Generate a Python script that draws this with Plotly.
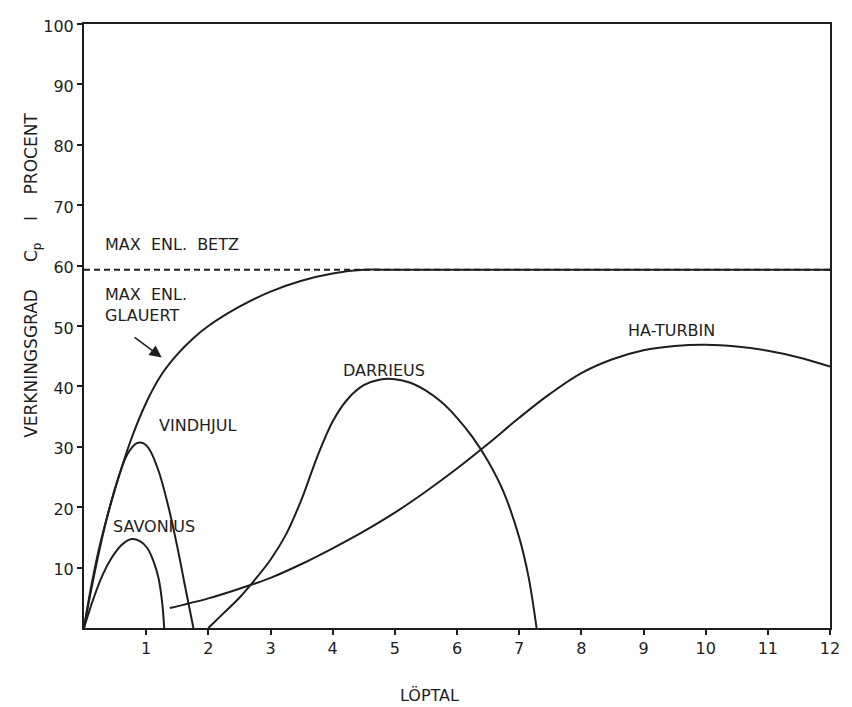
import plotly.graph_objects as go

# ---- data ----
glauert_x = [0, 0.1, 0.25, 0.5, 0.75, 1.0, 1.25, 1.5, 1.75, 2.0, 2.5, 3.0, 3.5, 4.0, 4.5, 5.0, 6.0, 8.0, 10.0, 12.0]
glauert_y = [0, 6.0, 13.5, 23.0, 31.0, 37.3, 42.0, 45.3, 47.9, 50.0, 53.2, 55.7, 57.5, 58.7, 59.3, 59.3, 59.3, 59.3, 59.3, 59.3]

betz_x = [0, 12]
betz_y = [59.3, 59.3]

vindhjul_x = [0, 0.1, 0.25, 0.4, 0.55, 0.7, 0.85, 0.95, 1.05, 1.2, 1.35, 1.5, 1.62, 1.76]
vindhjul_y = [0, 5.5, 13.0, 19.5, 24.8, 28.8, 30.6, 30.6, 29.6, 26.0, 20.4, 13.5, 7.2, 0]

savonius_x = [0, 0.15, 0.3, 0.45, 0.6, 0.75, 0.9, 1.02, 1.12, 1.2, 1.26, 1.29]
savonius_y = [0, 4.8, 8.8, 11.7, 13.7, 14.7, 14.4, 13.2, 11.0, 8.2, 4.0, 0]

darrieus_x = [2.0, 2.25, 2.5, 2.75, 3.0, 3.25, 3.5, 3.75, 4.0, 4.25, 4.5, 4.75, 5.0, 5.25, 5.5, 5.75, 6.0, 6.25, 6.5, 6.75, 7.0, 7.15, 7.28]
darrieus_y = [0, 2.5, 5.0, 8.0, 11.3, 15.5, 21.3, 28.3, 34.2, 38.0, 40.2, 41.1, 41.2, 40.6, 39.3, 37.4, 34.8, 31.6, 27.6, 22.5, 15.0, 8.5, 0]

haturbin_x = [1.38, 2.0, 2.5, 3.0, 3.5, 4.0, 4.5, 5.0, 5.5, 6.0, 6.5, 7.0, 7.5, 8.0, 8.5, 9.0, 9.5, 10.0, 10.5, 11.0, 11.5, 12.0]
haturbin_y = [3.3, 4.9, 6.5, 8.3, 10.6, 13.2, 16.0, 19.1, 22.6, 26.4, 30.5, 34.8, 38.8, 42.2, 44.5, 46.0, 46.7, 46.9, 46.6, 45.9, 44.8, 43.3]

x_ticks = [1, 2, 3, 4, 5, 6, 7, 8, 9, 10, 11, 12]
x_tick_labels = ["1", "2", "3", "4", "5", "6", "7", "8", "9", "10", "11", "12"]
y_ticks = [10, 20, 30, 40, 50, 60, 70, 80, 90, 100]
y_tick_labels = ["10", "20", "30", "40", "50", "60", "70", "80", "90", "100"]

curve_labels = [
    ("MAX  ENL.  BETZ", 0.3, 63.5),
    ("MAX  ENL.<br>GLAUERT", 0.3, 53.5),
    ("VINDHJUL", 1.17, 33.5),
    ("SAVONIUS", 0.43, 16.8),
    ("DARRIEUS", 4.14, 42.6),
    ("HA-TURBIN", 8.72, 49.2),
]

INK = "#1e1e1e"
FONT = "DejaVu Sans"

fig = go.Figure()

def add_curve(x, y, dash="solid", smooth=1.0):
    line = dict(color=INK, width=2, dash=dash)
    if smooth:
        line.update(shape="spline", smoothing=smooth)
    fig.add_trace(go.Scatter(x=x, y=y, mode="lines", line=line,
                             hoverinfo="skip", showlegend=False))

add_curve(betz_x, betz_y, dash="6px,4px", smooth=0)
add_curve(glauert_x, glauert_y, smooth=0.9)
add_curve(vindhjul_x, vindhjul_y)
add_curve(savonius_x, savonius_y)
add_curve(darrieus_x, darrieus_y)
add_curve(haturbin_x, haturbin_y)

for text, x, y in curve_labels:
    fig.add_annotation(x=x, y=y, text=text, showarrow=False, xanchor="left", yanchor="middle",
                       align="left", font=dict(family=FONT, size=16, color=INK))

# arrow pointing at the Glauert curve
fig.add_annotation(x=1.25, y=44.8, ax=0.79, ay=48.3, axref="x", ayref="y", text="",
                   showarrow=True, arrowhead=2, arrowsize=1.6, arrowwidth=1.5, arrowcolor=INK)

# axis titles as annotations
fig.add_annotation(xref="paper", yref="paper", x=-0.087, y=0.584,
                   text="VERKNINGSGRAD     C<sub>p</sub>    I    PROCENT",
                   textangle=-90, showarrow=False, font=dict(family=FONT, size=17, color=INK))
fig.add_annotation(xref="paper", yref="paper", x=0.463, y=-0.111, text="LÖPTAL", showarrow=False,
                   yanchor="middle", font=dict(family=FONT, size=16, color=INK))

fig.update_xaxes(range=[0, 12], tickvals=x_ticks, ticktext=x_tick_labels, ticks="outside",
                 ticklen=5, tickwidth=2, tickcolor=INK, showline=True, linecolor=INK, linewidth=2,
                 mirror=True, showgrid=False, zeroline=False,
                 tickfont=dict(family=FONT, size=16, color=INK))
fig.update_yaxes(range=[0, 100], tickvals=y_ticks, ticktext=y_tick_labels, ticks="outside",
                 ticklen=5, tickwidth=2, tickcolor=INK, showline=True, linecolor=INK, linewidth=2,
                 mirror=True, showgrid=False, zeroline=False, ticklabelshift=2, ticklabelstandoff=0,
                 tickfont=dict(family=FONT, size=16, color=INK))

fig.update_layout(width=852, height=707, margin=dict(l=84, r=20, t=24, b=79),
                  plot_bgcolor="white", paper_bgcolor="white")

fig.write_html("out.html")
